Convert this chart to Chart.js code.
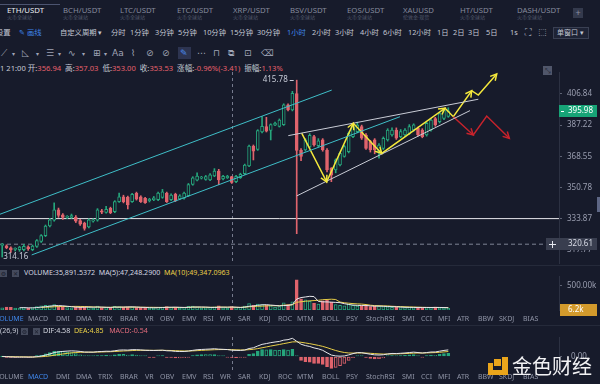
<!DOCTYPE html>
<html>
<head>
<meta charset="utf-8">
<script src="https://cdn.jsdelivr.net/npm/chart.js@4.4.1/dist/chart.umd.min.js"></script>
<style>
  body { margin:0; width:600px; height:384px; overflow:hidden; background:#171b2b; position:relative;
         font-family:"Noto Sans","Noto Sans CJK SC",sans-serif; color:#9094a6; }
  .a { position:absolute; white-space:nowrap; line-height:1; }
  .sub { font-size:5px; color:#545a6e; }
  .tab { font-size:7.8px; color:#858a9c; }
  .tb { font-size:7.3px; color:#c3c7d3; }
  .ic { font-family:"DejaVu Sans",sans-serif; font-size:9px; color:#a0a5b6; }
  .ind { font-size:7px; color:#8f94a6; }
  .box { position:absolute; width:7px; height:7px; background:#444a5c; color:#1b1f2e; font-size:6px; line-height:7px; text-align:center; font-family:"DejaVu Sans",sans-serif; }
  .sep { position:absolute; left:0; width:600px; height:1px; background:#252a3a; }
  canvas { position:absolute; left:0; }
</style>
</head>
<body>

<!-- top pair tabs -->
<div class="a" style="left:0;top:4px;width:60px;height:1px;background:#4c5470"></div>
<div id="pairs"></div>
<div class="a" style="left:573px;top:8px;width:10px;height:10px;background:#343a4d;color:#8a90a3;font-size:9px;line-height:10px;text-align:center">+</div>

<!-- period toolbar -->
<div class="a tb" style="left:-4px;top:29px">设置</div>
<div class="a tb" style="left:19px;top:29px;color:#3f86ea">✎ 画线</div>
<div id="periods"></div>
<div class="a" style="left:553px;top:27px;width:36px;height:12px;border:1px solid #3a4053;box-sizing:border-box;background:#1e2335"></div>
<div class="a tb" style="left:557px;top:29px;font-size:7px">单窗口 ▾</div>

<!-- drawing tools -->
<div class="a" style="left:178px;top:47px;width:13px;height:12px;background:#2d3450"></div>
<div id="tools"></div>

<!-- hovered candle info -->
<div class="a" id="info" style="left:0;top:65px;font-size:7.6px;color:#c5c9d5"></div>

<!-- small screenshot icon + edge tab -->
<div class="a" style="left:543px;top:66px;width:9px;height:9px;background:#50566a;color:#1b1f2e;font-size:7px;line-height:9px;text-align:center">⤡</div>
<div class="a" style="left:597px;top:197px;width:3px;height:15px;background:#5d6684"></div>

<canvas id="main" width="600" height="192" style="top:72px"></canvas>

<div class="sep" style="top:265px"></div>
<div class="box" style="left:0;top:270px">⚙</div>
<div class="box" style="left:12px;top:270px">✕</div>
<div class="a" style="left:24px;top:269px;font-size:7.1px;color:#d4d7e0">VOLUME:35,891.5372&nbsp; MA(5):47,248.2900&nbsp; <span style="color:#e9cf47">MA(10):49,347.0963</span></div>
<canvas id="vol" width="600" height="41" style="top:276px"></canvas>
<div id="tabs1"></div>

<div class="sep" style="top:325px"></div>
<div class="a" style="left:0;top:327px;font-size:7.1px;color:#c5c9d5">(26,9)</div>
<div class="box" style="left:21px;top:328px">⚙</div>
<div class="box" style="left:33px;top:328px">✕</div>
<div class="a" style="left:43px;top:327px;font-size:7.1px;color:#d4d7e0">DIF:4.58&nbsp; <span style="color:#e9cf47">DEA:4.85</span>&nbsp;&nbsp; <span style="color:#e06b7b">MACD:-0.54</span></div>
<canvas id="macd" width="600" height="33" style="top:337px"></canvas>
<div id="tabs2"></div>

<!-- watermark -->
<div class="a" style="left:488px;top:363px;width:5px;height:12px;background:#eaa51b"></div>
<div class="a" style="left:488px;top:370px;width:20px;height:5px;background:#eaa51b"></div>
<div class="a" style="left:502px;top:357px;width:6px;height:18px;background:#eaa51b"></div>
<div class="a" style="left:494px;top:359px;width:7px;height:7px;background:#eaa51b"></div>
<div class="a" style="left:512px;top:356px;font-size:20px;color:#f2f2f4;font-family:'Noto Sans CJK SC',sans-serif">金色财经</div>

<script>
// ---------- chart data ----------
const candleOpen = [
  320.0, 319.8, 318.8, 318.0, 317.8, 317.8, 319.3, 317.8, 319.5, 322.0,
  325.0, 330.0, 333.0, 338.5, 335.9, 334.5, 334.5, 334.7, 332.8, 331.5,
  329.5, 332.5, 333.0, 338.0, 337.2, 339.3, 337.5, 343.0, 345.6, 345.5,
  343.0, 347.5, 345.6, 344.8, 343.5, 344.0, 344.0, 345.3, 347.6, 344.0,
  347.0, 344.5, 344.8, 346.2, 352.4, 354.9, 356.0, 355.3, 355.0, 357.3,
  360.0, 355.5, 356.3, 356.94, 354.0, 356.2, 358.5, 363.0, 374.6, 372.5,
  383.0, 386.3, 384.0, 387.2, 386.4, 387.5, 399.8, 396.6, 407.0, 372.2,
  372.2, 374.0, 380.2, 374.8, 378.2, 372.2, 361.5, 360.6, 363.5, 368.4,
  371.2, 380.2, 383.2, 386.3, 381.2, 377.2, 378.2, 371.2, 373.2, 378.2,
  381.2, 384.2, 380.2, 381.2, 382.2, 384.2, 385.3, 384.2, 381.2, 384.2,
  391.3, 389.3, 391.3, 392.5
];
const candleHigh = [
  321.0, 320.3, 319.3, 318.8, 319.5, 320.5, 319.8, 320.2, 323.0, 325.5,
  330.5, 334.0, 342.3, 339.5, 336.5, 335.5, 336.3, 335.5, 333.5, 332.0,
  333.8, 333.8, 339.2, 338.8, 340.5, 340.0, 343.5, 347.6, 346.5, 346.0,
  347.5, 348.2, 346.2, 345.3, 344.8, 345.8, 348.2, 349.7, 348.2, 347.2,
  347.6, 346.8, 348.2, 353.0, 356.8, 359.0, 357.0, 357.5, 358.5, 361.4,
  361.0, 357.6, 357.6, 357.03, 357.6, 358.8, 364.0, 375.2, 375.2, 384.4,
  392.5, 392.0, 388.0, 389.0, 391.0, 400.5, 400.5, 408.5, 415.78, 373.0,
  379.0, 382.0, 381.0, 379.0, 379.0, 373.0, 362.0, 367.0, 371.0, 375.0,
  383.0, 387.0, 389.0, 387.2, 382.0, 378.0, 379.0, 376.0, 380.0, 385.0,
  385.5, 385.5, 384.5, 385.0, 387.5, 388.0, 386.0, 385.0, 389.0, 391.0,
  392.0, 395.0, 397.5, 398.0
];
const candleLow = [
  314.16, 318.3, 316.5, 317.2, 317.0, 317.2, 317.5, 317.3, 319.0, 321.5,
  324.5, 329.5, 332.5, 334.5, 333.5, 333.8, 334.0, 331.8, 330.3, 327.8,
  329.0, 332.0, 332.5, 336.5, 336.8, 336.5, 337.0, 342.5, 342.3, 339.0,
  342.5, 343.8, 342.5, 342.0, 342.8, 343.5, 343.5, 344.8, 342.5, 343.5,
  343.0, 344.0, 344.3, 345.8, 352.0, 354.4, 355.5, 354.8, 354.5, 356.8,
  352.3, 355.0, 355.8, 353.00, 353.5, 355.8, 358.0, 362.5, 366.4, 372.0,
  382.5, 383.0, 378.2, 386.8, 386.0, 387.0, 396.0, 396.0, 326.0, 366.0,
  371.5, 373.5, 374.5, 374.0, 371.5, 359.5, 354.0, 359.0, 363.0, 368.0,
  370.5, 379.5, 382.5, 378.5, 372.5, 371.0, 370.0, 367.5, 372.5, 377.5,
  380.5, 378.5, 379.5, 380.5, 381.5, 383.5, 380.5, 379.5, 380.5, 383.5,
  386.5, 388.5, 390.5, 392.0
];
const candleClose = [
  320.5, 318.8, 317.7, 318.3, 319.2, 319.5, 318.3, 319.6, 322.5, 325.0,
  330.0, 333.2, 338.5, 335.5, 334.5, 334.8, 335.5, 332.5, 331.0, 328.7,
  333.2, 333.2, 338.5, 337.3, 338.8, 337.0, 343.0, 345.6, 343.0, 341.2,
  347.0, 344.3, 343.0, 342.4, 344.2, 345.0, 347.6, 348.3, 343.0, 346.5,
  343.5, 346.2, 347.6, 352.4, 356.2, 357.1, 356.4, 356.9, 357.9, 360.0,
  355.0, 357.0, 357.0, 353.53, 357.0, 358.2, 363.5, 374.6, 371.5, 383.8,
  386.5, 383.5, 387.5, 388.5, 390.3, 399.8, 396.6, 407.2, 372.0, 368.4,
  378.2, 381.0, 375.2, 377.6, 372.2, 360.6, 357.7, 366.4, 370.2, 374.2,
  382.2, 386.3, 387.2, 379.2, 373.2, 372.2, 372.2, 375.2, 379.2, 384.2,
  384.2, 379.2, 383.2, 384.2, 386.3, 387.3, 381.2, 380.2, 388.3, 390.3,
  387.3, 394.4, 396.6, 395.98
];
const volumes = [
  45000, 60000, 55000, 40000, 38000, 50000, 42000, 48000, 70000, 85000,
  95000, 90000, 110000, 75000, 60000, 50000, 45000, 65000, 55000, 70000,
  60000, 40000, 80000, 45000, 50000, 48000, 75000, 70000, 55000, 65000,
  58000, 52000, 48000, 44000, 40000, 45000, 60000, 62000, 70000, 48000,
  55000, 42000, 50000, 75000, 80000, 60000, 40000, 45000, 50000, 65000,
  85000, 45000, 40000, 70000, 50000, 55000, 80000, 130000, 95000, 120000,
  110000, 95000, 85000, 60000, 70000, 150000, 110000, 170000, 620000, 230000,
  210000, 180000, 140000, 120000, 190000, 200000, 160000, 110000, 95000, 85000,
  120000, 95000, 80000, 85000, 90000, 70000, 75000, 80000, 70000, 65000,
  55000, 60000, 50000, 48000, 55000, 52000, 48229, 50000, 52000, 52000,
  61000, 44000, 43351, 35891
];
const priceTicks = [317.77, 333.87, 350.78, 368.55, 387.22, 406.84];
const lastPrice = 395.98;
const supportLevel = 333.87;
const markLevel = 320.61;
const hoverIndex = 53;
const volumeTag = 6200;

// drawn trend lines, in (candle index, price)
const channelUpper = [{x: -0.51, y: 336.2}, {x: 76.08, y: 409.3}];
const channelLower = [{x: 6.81, y: 315.2}, {x: 91.85, y: 392.4}];
const wedgeUpper = [{x: 66.06, y: 380.8}, {x: 109.93, y: 403.4}];
const wedgeLower = [{x: 68.0, y: 346.1}, {x: 108.01, y: 396.2}];
const bullPath = [
  {x: 69.15, y: 382.3}, {x: 74.92, y: 353.9}, {x: 81.07, y: 388.3}, {x: 87.62, y: 370.2},
  {x: 102.24, y: 397.7}, {x: 104.16, y: 392.4}, {x: 108.4, y: 408.9}, {x: 109.93, y: 406.1},
  {x: 114.18, y: 419.9}
];
const bearPath = [{x: 104.16, y: 392.4}, {x: 108.77, y: 381.2}, {x: 111.87, y: 392.8}, {x: 117.09, y: 379.2}];

// ---------- page text ----------
const pairNames = ["ETH/USDT", "BCH/USDT", "LTC/USDT", "ETC/USDT", "XRP/USDT", "BSV/USDT", "EOS/USDT", "XAUUSD", "HT/USDT", "DASH/USDT"];
const pairSubs = ["火币全球站", "火币全球站", "火币全球站", "火币全球站", "火币全球站", "火币全球站", "火币全球站", "伦敦金·现货", "火币全球站", "火币全球站"];
const pairX = [7, 63, 120, 177, 233, 290, 347, 403, 460, 517];
let html = '';
pairNames.forEach((n, i) => {
    html += `<div class="a tab" style="left:${pairX[i]}px;top:7px;${i === 0 ? 'color:#e8eaf0' : ''}">${n}</div>`;
    html += `<div class="a sub" style="left:${pairX[i]}px;top:15px">${pairSubs[i]}</div>`;
});
document.getElementById('pairs').innerHTML = html;

const periods = ["自定义周期 ▾", "分时", "1分钟", "3分钟", "5分钟", "10分钟", "15分钟", "30分钟", "1小时", "2小时", "3小时", "4小时", "6小时", "12小时", "1日", "2日", "3日", "5日", "1s"];
const periodX = [60, 111, 130, 155, 178, 203, 230, 257, 287, 312, 335, 360, 383, 408, 437, 453, 468, 486, 510];
html = '';
periods.forEach((p, i) => {
    html += `<div class="a tb" style="left:${periodX[i]}px;top:29px;${p === '1小时' ? 'color:#3f86ea' : ''}">${p}</div>`;
});
html += `<div class="a ic" style="left:525px;top:28px">⛶</div><div class="a ic" style="left:538px;top:28px">⬚</div>`;
document.getElementById('periods').innerHTML = html;

const tools = ["⟋", "▾", "◺", "▾", "☰", "▾", "∿", "▾", "⊞", "▾", "Aa", "⌇", "⊘", "⊘", "✎", "⋯", "⊓", "⧉", "⊡", "⌫"];
const toolX = [1, 12, 22, 36, 46, 58, 68, 82, 93, 104, 112, 131, 146, 162, 180, 197, 213, 228, 244, 261];
html = '';
tools.forEach((t, i) => {
    const small = t === '▾' ? 'font-size:6px;top:51px' : 'top:49px';
    html += `<div class="a ic" style="left:${toolX[i]}px;${small};${t === '✎' ? 'color:#4a8ff0' : ''}">${t}</div>`;
});
document.getElementById('tools').innerHTML = html;

const infoParts = [["1 21:00 ", null], ["开:", "356.94"], ["高:", "357.03"], ["低:", "353.00"], ["收:", "353.53"], ["涨幅:", "-0.96%(-3.41)"], ["振幅:", "1.13%"]];
document.getElementById('info').innerHTML = infoParts.map(p =>
    p[1] === null ? p[0] : `${p[0]}<span style="color:#e5606b">${p[1]}</span>&nbsp;`).join(' ');

const indicators = ["VOLUME", "MACD", "DMI", "DMA", "TRIX", "BRAR", "VR", "OBV", "EMV", "RSI", "WR", "SAR", "KDJ", "ROC", "MTM", "BOLL", "PSY", "StochRSI", "SMI", "CCI", "MFI", "ATR", "BBW", "SKDJ", "BIAS"];
const indicatorX = [-5, 28, 56, 76, 98, 120, 145, 160, 182, 203, 220, 238, 259, 278, 297, 322, 346, 366, 402, 421, 438, 457, 478, 499, 523];
const tabRow = (id, top, active) => {
    document.getElementById(id).innerHTML = indicators.map((n, i) =>
        `<div class="a ind" style="left:${indicatorX[i]}px;top:${top}px;${n === active ? 'color:#3f86ea' : ''}">${n}</div>`).join('');
};
tabRow('tabs1', 315, 'VOLUME');
tabRow('tabs2', 373, 'MACD');

// ---------- derived series ----------
const UP = '#26a67c', DOWN = '#e0646d', BG = '#171b2b';
const idx = candleOpen.map((_, i) => i);
const isUp = idx.map(i => candleClose[i] >= candleOpen[i]);
const xMin = -0.508, xMax = 128.56;

const movingAvg = (arr, n) => arr.map((v, i) => i < n - 1 ? null :
    arr.slice(i - n + 1, i + 1).reduce((s, a) => s + a, 0) / n);
const ema = (arr, n) => {
    const k = 2 / (n + 1), out = [];
    arr.forEach((v, i) => out.push(i === 0 ? v : v * k + out[i - 1] * (1 - k)));
    return out;
};
const ema12 = ema(candleClose, 12), ema26 = ema(candleClose, 26);
const dif = ema12.map((v, i) => v - ema26[i]);
const dea = ema(dif, 9);
const macdHist = dif.map((v, i) => 2 * (v - dea[i]));

// ---------- shared helpers ----------
const rightAxis = (extra) => Object.assign({
    position: 'right',
    grid: {drawOnChartArea: false, tickLength: 3, color: '#5d6273'},
    border: {color: '#2c3142'},
    ticks: {color: '#9a9eb0', font: {size: 8, family: 'Noto Sans'}, padding: 5, autoSkip: false},
    afterFit(s) { s.width = 41; s.paddingTop = 0; s.paddingBottom = 0; }
}, extra);

const baseOptions = (y, padBottom) => ({
    responsive: false, animation: false, events: [],
    layout: {padding: {left: 0, right: 0, top: 0, bottom: padBottom || 0}},
    plugins: {legend: {display: false}, tooltip: {enabled: false}},
    scales: {
        x: {type: 'linear', display: false, min: xMin, max: xMax, offset: false},
        y: y
    }
});

const hoverLine = {
    id: 'hoverLine',
    beforeDatasetsDraw(chart) {
        const ctx = chart.ctx, a = chart.chartArea;
        const x = Math.round(chart.scales.x.getPixelForValue(hoverIndex)) + 0.5;
        ctx.save();
        ctx.strokeStyle = '#767b8e';
        ctx.lineWidth = 1;
        ctx.setLineDash([3, 3]);
        ctx.beginPath();
        ctx.moveTo(x, a.top);
        ctx.lineTo(x, a.bottom);
        ctx.stroke();
        ctx.restore();
    }
};

const tag = (ctx, y, text, bg, x0, fg) => {
    ctx.save();
    ctx.fillStyle = bg;
    ctx.fillRect(x0, Math.round(y) - 6, 597 - x0, 12);
    ctx.fillStyle = fg || '#ffffff';
    ctx.font = '8px "Noto Sans"';
    ctx.textBaseline = 'middle';
    ctx.fillText(text, 568, Math.round(y));
    ctx.restore();
};

// ---------- main candlestick chart ----------
const mainOverlay = {
    id: 'mainOverlay',
    afterDatasetsDraw(chart) {
        const ctx = chart.ctx;
        chart.data.datasets.forEach((ds, di) => {
            if (!ds.heads) return;
            const pts = chart.getDatasetMeta(di).data;
            ds.heads.forEach(k => {
                const a = pts[k - 1], b = pts[k];
                const ang = Math.atan2(b.y - a.y, b.x - a.x);
                ctx.save();
                ctx.strokeStyle = ds.borderColor;
                ctx.lineWidth = 1.5;
                ctx.beginPath();
                ctx.moveTo(b.x - 7 * Math.cos(ang - 0.5), b.y - 7 * Math.sin(ang - 0.5));
                ctx.lineTo(b.x, b.y);
                ctx.lineTo(b.x - 7 * Math.cos(ang + 0.5), b.y - 7 * Math.sin(ang + 0.5));
                ctx.stroke();
                ctx.restore();
            });
        });
    },
    afterDraw(chart) {
        const ctx = chart.ctx, xs = chart.scales.x, ys = chart.scales.y;
        const hi = Math.max(...candleHigh), lo = Math.min(...candleLow);
        const hx = xs.getPixelForValue(candleHigh.indexOf(hi)), hy = ys.getPixelForValue(hi);
        const lx = xs.getPixelForValue(candleLow.indexOf(lo)), ly = ys.getPixelForValue(lo);
        ctx.save();
        ctx.font = '8px "Noto Sans"';
        ctx.fillStyle = '#c8ccd8';
        ctx.strokeStyle = '#c8ccd8';
        ctx.textBaseline = 'middle';
        ctx.beginPath();
        ctx.moveTo(hx - 7, Math.round(hy) + 0.5);
        ctx.lineTo(hx - 3, Math.round(hy) + 0.5);
        ctx.stroke();
        ctx.textAlign = 'right';
        ctx.fillText(hi.toFixed(2), hx - 9, hy);
        ctx.textAlign = 'left';
        ctx.fillText(lo.toFixed(2), lx + 1, ly);
        ctx.restore();

        // price tags on the axis
        const py = ys.getPixelForValue(lastPrice);
        tag(ctx, py, lastPrice.toFixed(2), '#17a477', 559);
        ctx.fillStyle = '#ffffff';
        ctx.fillRect(561, Math.round(py), 3, 1);
        const my = ys.getPixelForValue(markLevel);
        tag(ctx, my, markLevel.toFixed(2), '#393e4f', 546, '#d9dce6');
        ctx.save();
        ctx.fillStyle = '#e6e8ef';
        ctx.fillRect(549, Math.round(my), 7, 1);
        ctx.fillRect(552, Math.round(my) - 3, 1, 7);
        ctx.restore();
    }
};

const lineSet = (data, color, width, extra) => Object.assign({
    type: 'line', data: data, borderColor: color, borderWidth: width,
    pointRadius: 0, tension: 0, fill: false, order: 0
}, extra);

new Chart(document.getElementById('main'), {
    type: 'bar',
    data: {
        datasets: [
            lineSet([{x: xMin, y: supportLevel}, {x: xMax, y: supportLevel}], '#e8e8ec', 1, {order: 3}),
            lineSet([{x: xMin, y: markLevel}, {x: xMax, y: markLevel}], '#7f8496', 1, {order: 3, borderDash: [4, 3]}),
            {
                data: idx.map(i => ({x: i, y: [candleLow[i], candleHigh[i]]})),
                backgroundColor: idx.map(i => isUp[i] ? UP : DOWN),
                barThickness: 1, grouped: false, order: 2
            },
            {
                data: idx.map(i => ({x: i, y: [Math.min(candleOpen[i], candleClose[i]), Math.max(candleOpen[i], candleClose[i])]})),
                backgroundColor: idx.map(i => isUp[i] ? BG : DOWN),
                borderColor: idx.map(i => isUp[i] ? UP : DOWN),
                borderWidth: 1, borderSkipped: false, minBarLength: 1,
                barThickness: 3, grouped: false, order: 1
            },
            lineSet(channelUpper, '#3fbfc8', 1),
            lineSet(channelLower, '#3fbfc8', 1),
            lineSet(wedgeUpper, '#c9ccd6', 1),
            lineSet(wedgeLower, '#c9ccd6', 1),
            lineSet(bearPath, '#c8232c', 1.5, {heads: [1, 3]}),
            lineSet(bullPath, '#f4e83c', 1.5, {heads: [1, 2, 3, 4, 6, 8]})
        ]
    },
    options: baseOptions(rightAxis({
        type: 'logarithmic', min: 310.7, max: 421.2, bounds: 'data',
        afterBuildTicks(s) { s.ticks = priceTicks.map(v => ({value: v})); },
        ticks: {color: '#9a9eb0', font: {size: 8, family: 'Noto Sans'}, padding: 5, autoSkip: false,
                callback: v => Number(v).toFixed(2)}
    })),
    plugins: [hoverLine, mainOverlay]
});

// ---------- volume chart ----------
new Chart(document.getElementById('vol'), {
    type: 'bar',
    data: {
        datasets: [
            lineSet(idx.map(i => ({x: i, y: movingAvg(volumes, 5)[i]})), '#e6e6ea', 1),
            lineSet(idx.map(i => ({x: i, y: movingAvg(volumes, 10)[i]})), '#e9cf47', 1),
            {
                data: idx.map(i => ({x: i, y: volumes[i]})),
                backgroundColor: idx.map(i => isUp[i] ? BG : DOWN),
                borderColor: idx.map(i => isUp[i] ? UP : DOWN),
                borderWidth: 1, borderSkipped: false, minBarLength: 1,
                barThickness: 3, grouped: false, order: 1
            }
        ]
    },
    options: baseOptions(rightAxis({
        type: 'linear', min: 0, max: 700000,
        afterBuildTicks(s) { s.ticks = [{value: 500000}]; },
        ticks: {color: '#9a9eb0', font: {size: 8, family: 'Noto Sans'}, padding: 5, autoSkip: false,
                callback: v => (v / 1000).toFixed(2) + 'k'}
    }), 7),
    plugins: [hoverLine, {
        id: 'volTag',
        afterDraw(chart) {
            tag(chart.ctx, chart.scales.y.getPixelForValue(volumeTag), '6.2k', '#d39a2c', 560);
        }
    }]
});

// ---------- MACD chart ----------
const macdTop = Math.max(...dif, ...dea) * 19.5 / 18.2;
new Chart(document.getElementById('macd'), {
    type: 'bar',
    data: {
        datasets: [
            lineSet(idx.map(i => ({x: i, y: dif[i]})), '#e6e6ea', 1),
            lineSet(idx.map(i => ({x: i, y: dea[i]})), '#e9cf47', 1),
            {
                data: idx.map(i => ({x: i, y: macdHist[i]})),
                backgroundColor: idx.map(i => {
                    const grow = i === 0 || Math.abs(macdHist[i]) >= Math.abs(macdHist[i - 1]);
                    return grow ? (macdHist[i] >= 0 ? UP : DOWN) : BG;
                }),
                borderColor: idx.map(i => macdHist[i] >= 0 ? UP : DOWN),
                borderWidth: 1, borderSkipped: false, minBarLength: 1,
                barThickness: 3, grouped: false, order: 1
            }
        ]
    },
    options: baseOptions(rightAxis({
        type: 'linear', min: -macdTop * 13.5 / 19.5, max: macdTop,
        afterBuildTicks(s) { s.ticks = [{value: 0}]; },
        ticks: {color: '#9a9eb0', font: {size: 8, family: 'Noto Sans'}, padding: 9, autoSkip: false,
                callback: v => Number(v).toFixed(2)}
    })),
    plugins: [hoverLine]
});
</script>
</body>
</html>
